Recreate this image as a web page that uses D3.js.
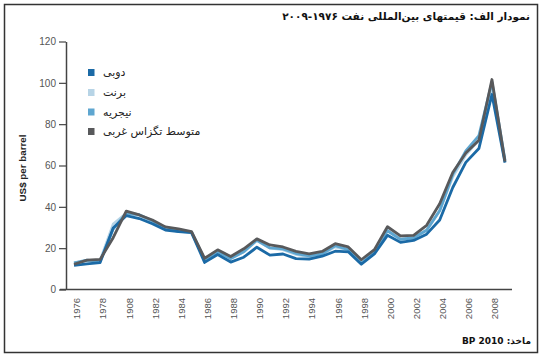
<!DOCTYPE html>
<html><head><meta charset="utf-8">
<script src="https://cdn.jsdelivr.net/npm/d3@7"></script>
<style>
html,body{margin:0;padding:0;background:#fff;}
svg{display:block;}
</style></head>
<body>
<script>
const years = d3.range(1976, 2010);
const dubai = [11.63,12.38,13.03,29.75,35.69,34.32,31.80,28.78,28.06,27.53,13.10,16.95,13.27,15.62,20.45,16.63,17.17,14.93,14.74,16.10,18.52,18.23,12.21,17.25,26.20,22.81,23.74,26.78,33.64,49.35,61.50,68.19,94.34,61.39];
const brent = [12.80,13.92,14.02,31.61,36.83,35.93,32.97,29.55,28.78,27.56,14.43,18.44,14.92,18.23,23.73,20.00,19.32,16.97,15.82,17.02,20.67,19.09,12.72,17.97,28.50,24.44,25.02,28.83,38.27,54.52,65.14,72.39,97.26,61.67];
const nigeria = [12.87,14.21,13.65,29.25,36.98,36.18,33.29,29.54,28.14,27.75,14.46,18.39,15.00,18.30,23.85,20.11,19.61,17.41,16.25,17.26,21.16,19.33,12.62,18.00,28.42,24.23,25.04,28.66,38.13,55.69,67.07,74.48,100.4,62.5];
const wti = [12.23,14.22,14.55,25.08,37.96,36.08,33.65,30.30,29.39,27.98,15.10,19.18,15.97,19.68,24.50,21.54,20.57,18.45,17.21,18.42,22.16,20.61,14.39,19.31,30.37,25.93,26.16,31.07,41.49,56.59,66.02,72.20,101.6,61.92];
const tickYears = [1976,1978,1980,1982,1984,1986,1988,1990,1992,1994,1996,1998,2000,2002,2004,2006,2008];
const tickYearLabels = ["1976","1978","1908","1982","1984","1986","1988","1990","1992","1994","1996","1998","2000","2002","2004","2006","2008"];
const yTicks = [0,20,40,60,80,100,120];
const seriesNames = ["دوبی","برنت","نیجریه","متوسط تگزاس غربی"];
const title = "نمودار الف: قیمتهای بین‌المللی نفت ۱۹۷۶-۲۰۰۹";
const source = "ماخذ: BP 2010";
const yTitle = "US$ per barrel";

const colors = ["#1b6aa6","#b7d4e6","#5ea6d0","#58595b"];
const series = [dubai, brent, nigeria, wti];

const W = 543, H = 357;
const svg = d3.select("body").append("svg").attr("width", W).attr("height", H);

svg.append("rect").attr("x",4.5).attr("y",4.5).attr("width",533).attr("height",348)
  .attr("fill","none").attr("stroke","#333").attr("stroke-width",1.5);

const x = d3.scaleLinear().domain([1976,2009]).range([74,505]);
const y = d3.scaleLinear().domain([0,120]).range([289.5,41.5]);

// y axis
const yAxis = svg.append("g").attr("transform","translate(66,0)")
  .call(d3.axisLeft(y).tickValues(yTicks).tickSize(7).tickPadding(3).tickSizeOuter(0));
yAxis.select(".domain").attr("stroke","#444").attr("stroke-width",1.5);
yAxis.selectAll(".tick line").attr("stroke","#444").attr("stroke-width",1.2);
yAxis.selectAll("text").attr("fill","#555").style("font-family","'Liberation Sans Narrow','Liberation Sans',Arial,sans-serif").style("font-size","10px");

// x axis line
svg.append("line").attr("x1",60).attr("x2",512).attr("y1",289.5).attr("y2",289.5)
  .attr("stroke","#444").attr("stroke-width",1.5);

// x labels
svg.append("g").selectAll("text").data(tickYears).join("text")
  .attr("transform", (d)=>`translate(${x(d)+3},298) rotate(-90)`)
  .attr("text-anchor","end").attr("dy","0.35em")
  .attr("fill","#555")
  .style("font-family","'Liberation Sans',Arial,sans-serif").style("font-size","9.5px")
  .text((d,i)=>tickYearLabels[i]);

// y title
svg.append("text").attr("transform","translate(26,168) rotate(-90)")
  .attr("text-anchor","middle").attr("fill","#222")
  .style("font-family","'Liberation Sans',Arial,sans-serif").style("font-size","9.8px").style("font-weight","bold")
  .text(yTitle);

// lines
const line = d3.line().x((d,i)=>x(years[i])).y(d=>y(d)).curve(d3.curveLinear);
const order = [1,2,0,3];
order.forEach(k=>{
  svg.append("path").datum(series[k]).attr("d",line)
    .attr("fill","none").attr("stroke",colors[k]).attr("stroke-width",2.8)
    .attr("stroke-linejoin","round").attr("stroke-linecap","butt");
});

// legend
const ly = [72.5,92.5,112,131.5];
seriesNames.forEach((n,i)=>{
  svg.append("rect").attr("x",88).attr("y",ly[i]-3.5).attr("width",6.5).attr("height",7).attr("fill",colors[i]);
  svg.append("text").attr("x",103).attr("y",ly[i]+3.5)
    .attr("direction","rtl").attr("text-anchor","end")
    .attr("fill","#222")
    .style("font-family","'DejaVu Sans',sans-serif").style("font-size","11px")
    .text(n);
});

// title
svg.append("text").attr("x",530).attr("y",20)
  .attr("direction","rtl").attr("text-anchor","start").attr("fill","#111")
  .style("font-family","'DejaVu Sans',sans-serif").style("font-size","10.5px").style("font-weight","bold")
  .text(title);

// source
svg.append("text").attr("x",531).attr("y",344)
  .attr("direction","rtl").attr("text-anchor","start").attr("fill","#111")
  .style("font-family","'DejaVu Sans',sans-serif").style("font-size","9px").style("font-weight","bold")
  .text(source);
</script>
</body></html>
